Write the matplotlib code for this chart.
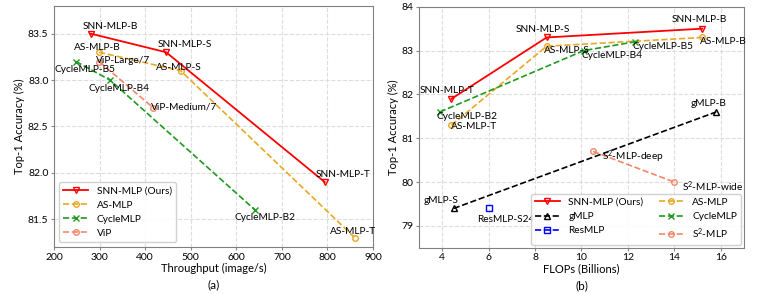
import matplotlib
matplotlib.use("Agg")
import matplotlib.pyplot as plt

plt.rcParams['font.family'] = ['Lato', 'DejaVu Sans']
plt.rcParams['font.size'] = 7.5
plt.rcParams['mathtext.default'] = 'regular'

# ---------------- (a) throughput vs accuracy ----------------
snn_tp = [281, 446, 794]
snn_acc_a = [83.5, 83.3, 81.9]
as_tp = [299, 478, 860]
as_acc_a = [83.3, 83.1, 81.3]
cycle_tp = [248, 323, 641]
cycle_acc_a = [83.2, 83.0, 81.6]
vip_tp = [299, 418]
vip_acc = [83.2, 82.7]

labels_a = ["SNN-MLP-B", "SNN-MLP-S", "SNN-MLP-T", "AS-MLP-B", "AS-MLP-S", "AS-MLP-T",
            "CycleMLP-B5", "CycleMLP-B4", "CycleMLP-B2", "ViP-Large/7", "ViP-Medium/7"]
labels_a_x = [323, 487, 834, 294, 474, 856, 268, 342, 663, 351, 485]
labels_a_y = [83.58, 83.38, 81.98, 83.35, 83.14, 81.37, 83.11, 82.91, 81.52, 83.21, 82.71]

# ---------------- (b) FLOPs vs accuracy ----------------
snn_flops = [4.4, 8.5, 15.2]
snn_acc_b = [81.9, 83.3, 83.5]
as_flops = [4.4, 8.5, 15.2]
as_acc_b = [81.3, 83.1, 83.3]
cycle_flops = [3.9, 10.1, 12.3]
cycle_acc_b = [81.6, 83.0, 83.2]
gmlp_flops = [4.5, 15.8]
gmlp_acc = [79.4, 81.6]
resmlp_flops = [6.0]
resmlp_acc = [79.4]
s2_flops = [10.5, 14.0]
s2_acc = [80.7, 80.0]

labels_b = ["SNN-MLP-T", "SNN-MLP-S", "SNN-MLP-B", "AS-MLP-T", "AS-MLP-S", "AS-MLP-B",
            "CycleMLP-B2", "CycleMLP-B4", "CycleMLP-B5", "gMLP-S", "gMLP-B",
            "ResMLP-S24", "S$^2$-MLP-deep", "S$^2$-MLP-wide"]
labels_b_x = [4.2, 8.32, 15.09, 5.38, 9.39, 16.1, 5.08, 11.3, 13.5, 3.96, 15.48, 6.76, 12.2, 15.65]
labels_b_y = [82.09, 83.49, 83.70, 81.26, 83.01, 83.2, 81.49, 82.89, 83.1, 79.58, 81.79, 79.14, 80.59, 79.9]

c_snn = 'red'
c_as = '#e8a825'
c_cycle = '#1f9a1f'
c_vip = '#f4876a'
c_s2 = '#f4876a'

fig = plt.figure(figsize=(7.75, 2.94), dpi=100)
ax1 = fig.add_axes([0.0697, 0.160, 0.4116, 0.820])
ax2 = fig.add_axes([0.5406, 0.157, 0.4194, 0.820])

ax1.plot(snn_tp, snn_acc_a, '-', color=c_snn, marker='v', mfc='none', ms=5, lw=1.3, label='SNN-MLP (Ours)')
ax1.plot(as_tp, as_acc_a, '--', color=c_as, marker='o', mfc='none', ms=4, lw=1.2, label='AS-MLP')
ax1.plot(cycle_tp, cycle_acc_a, '--', color=c_cycle, marker='x', ms=4, lw=1.2, label='CycleMLP')
ax1.plot(vip_tp, vip_acc, '--', color=c_vip, marker='o', mfc='none', ms=4, lw=1.2, label='ViP')
for t, x, y in zip(labels_a, labels_a_x, labels_a_y):
    ax1.text(x, y, t, ha='center', va='center', fontsize=7.3)
ax1.set_xlim(200, 900)
ax1.set_ylim(81.2, 83.8)
ax1.set_yticks([81.5, 82.0, 82.5, 83.0, 83.5])
ax1.set_xlabel('Throughput (image/s)', fontsize=8, labelpad=1)
ax1.set_ylabel('Top-1 Accuracy (%)', fontsize=8, labelpad=2)
ax1.legend(loc='lower left', fontsize=7.3, framealpha=0.9, handlelength=2.5)
ax1.text(0.5, -0.135, '(a)', transform=ax1.transAxes, ha='center', va='top', fontsize=8.5)

ax2.plot(snn_flops, snn_acc_b, '-', color=c_snn, marker='v', mfc='none', ms=5, lw=1.3, label='SNN-MLP (Ours)')
ax2.plot(gmlp_flops, gmlp_acc, '--', color='black', marker='^', mfc='none', ms=4, lw=1.2, label='gMLP')
ax2.plot(resmlp_flops, resmlp_acc, '--', color='blue', marker='s', mfc='none', ms=4, lw=1.2, label='ResMLP')
ax2.plot(as_flops, as_acc_b, '--', color=c_as, marker='o', mfc='none', ms=4, lw=1.2, label='AS-MLP')
ax2.plot(cycle_flops, cycle_acc_b, '--', color=c_cycle, marker='x', ms=4, lw=1.2, label='CycleMLP')
ax2.plot(s2_flops, s2_acc, '--', color=c_s2, marker='o', mfc='none', ms=4, lw=1.2, label='S$^2$-MLP')
for t, x, y in zip(labels_b, labels_b_x, labels_b_y):
    ax2.text(x, y, t, ha='center', va='center', fontsize=7.3)
ax2.set_xlim(3, 17)
ax2.set_ylim(78.5, 84)
ax2.set_xticks([4, 6, 8, 10, 12, 14, 16])
ax2.set_yticks([79, 80, 81, 82, 83, 84])
ax2.set_xlabel('FLOPs (Billions)', fontsize=8, labelpad=1)
ax2.set_ylabel('Top-1 Accuracy (%)', fontsize=8, labelpad=2)
ax2.legend(loc='lower right', ncol=2, fontsize=7.3, framealpha=0.9, handlelength=2.5,
           columnspacing=1.5, borderaxespad=0.3)
ax2.text(0.5, -0.135, '(b)', transform=ax2.transAxes, ha='center', va='top', fontsize=8.5)

for ax in (ax1, ax2):
    ax.grid(True, linestyle='--', color='#dddddd', lw=0.8)
    ax.set_axisbelow(True)
    ax.tick_params(labelsize=7.5, length=2, pad=2, color='#888888')
    for s in ax.spines.values():
        s.set_color('#808080')

fig.savefig('out.png', dpi=100)
